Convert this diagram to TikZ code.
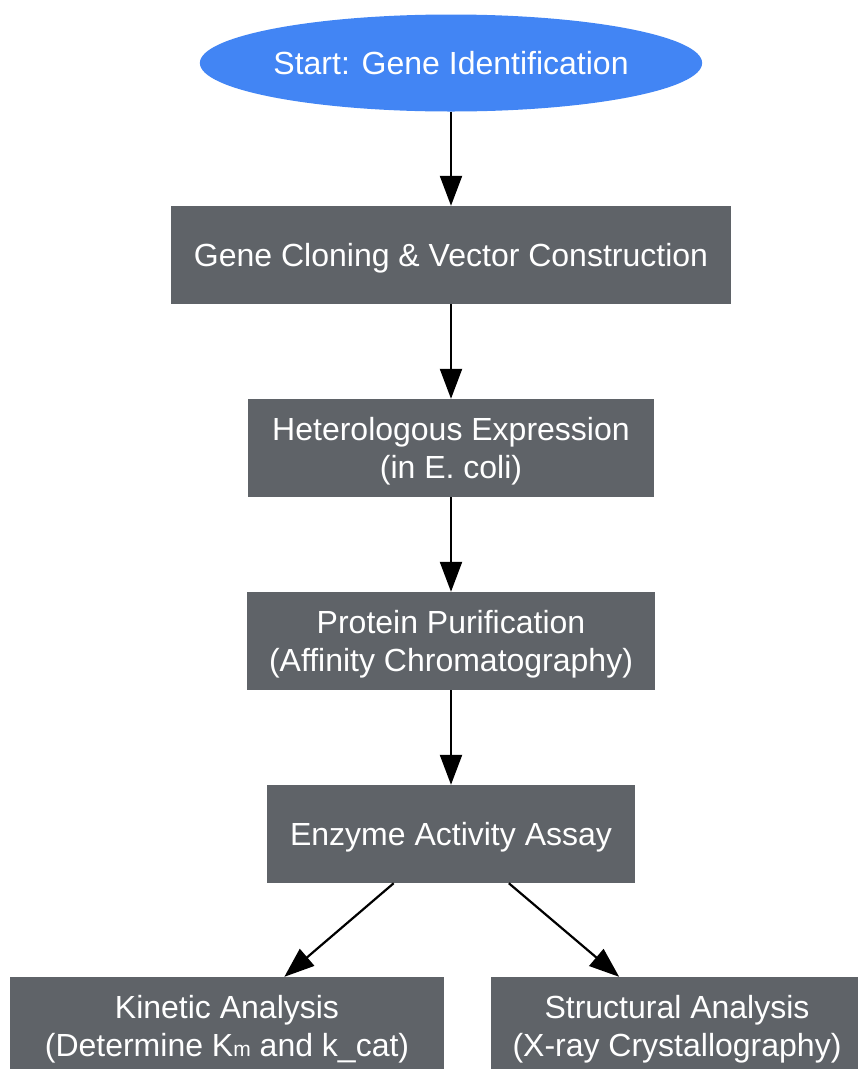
\documentclass[tikz,border=0pt]{standalone}
\usepackage{fontspec}
\setmainfont{Liberation Sans}
\usetikzlibrary{shapes.geometric,arrows.meta}
\definecolor{gblue}{HTML}{4285F4}
\definecolor{ggray}{HTML}{5F6368}
\newcommand{\bxtxt}[1]{\raisebox{0pt}[\dimexpr\height+8pt\relax][\depth]{\begin{tabular}{@{}c@{}}#1\end{tabular}}}
\begin{document}
\begin{tikzpicture}[x=1pt,y=-1pt,
  txt/.style={text=white,font=\fontsize{32}{38}\selectfont,align=center,inner sep=0pt},
  startnode/.style={txt,ellipse,fill=gblue,minimum width=500pt,minimum height=97pt},
  stepbox/.style={txt,rectangle,fill=ggray,minimum height=98pt},
  arr/.style={line width=2.2pt,-{Triangle[length=30pt,width=22pt]}}]
\useasboundingbox (0,0) rectangle (858,1069);
\node[startnode] (s0) at (451,63) {Start: Gene Identification};
\node[stepbox,minimum width=560pt] (b1) at (451,255) {\bxtxt{Gene Cloning \& Vector Construction}};
\node[stepbox,minimum width=406pt] (b2) at (451,448) {\bxtxt{Heterologous Expression\\(in E. coli)}};
\node[stepbox,minimum width=408pt] (b3) at (451,641) {\bxtxt{Protein Purification\\(Affinity Chromatography)}};
\node[stepbox,minimum width=368pt] (b4) at (451,834) {\bxtxt{Enzyme Activity Assay}};
\node[stepbox,minimum width=434pt] (b5) at (227,1026) {\bxtxt{Kinetic Analysis\\(Determine K{\fontsize{21}{21}\selectfont m} and k\_cat)}};
\node[stepbox,minimum width=372pt] (b6) at (677,1026) {\bxtxt{Structural Analysis\\(X-ray Crystallography)}};
\draw[arr] (s0) -- (b1);
\draw[arr] (b1) -- (b2);
\draw[arr] (b2) -- (b3);
\draw[arr] (b3) -- (b4);
\draw[arr] (b4) -- (b5);
\draw[arr] (b4) -- (b6);
\end{tikzpicture}
\end{document}
